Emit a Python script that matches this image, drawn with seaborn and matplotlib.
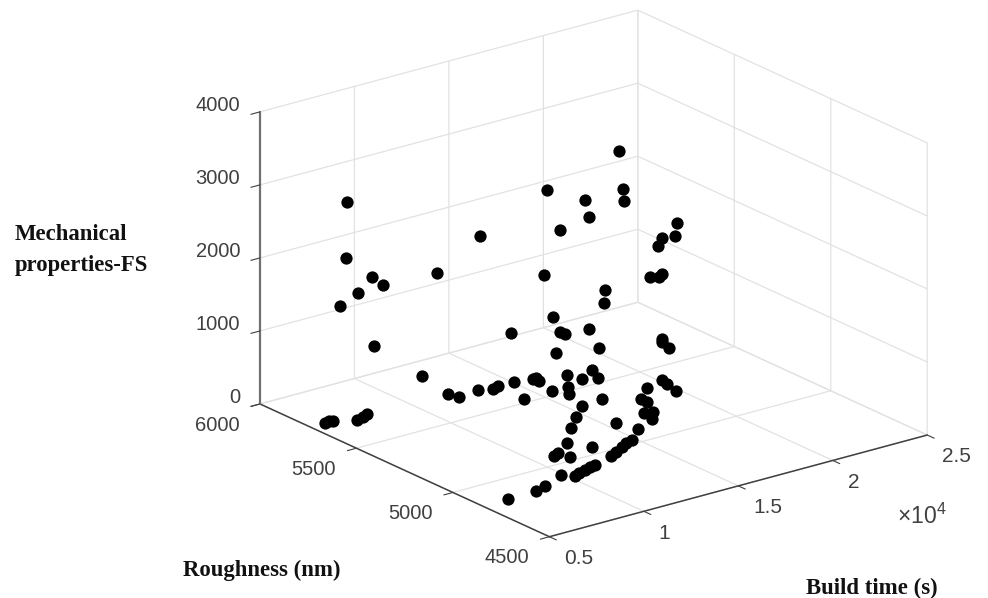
import numpy as np
import pandas as pd
import matplotlib
matplotlib.use("Agg")
import matplotlib.pyplot as plt
import seaborn as sns
from mpl_toolkits.mplot3d import proj3d

# =========================================
# Data
# =========================================
build_time = [7310, 7280, 7970, 8250, 7600, 7120, 8010, 9670, 10830, 12030, 11560, 11710, 12860, 13470, 13780, 5390,
              5650, 5780, 6640, 7030, 7410, 16330, 16540, 16590, 12580, 14560, 14740, 13240, 12510, 18380, 18340, 18000,
              17890, 18000, 17920, 17670, 15580, 15530, 12850, 11640, 19830, 19850, 20990, 19940, 22730, 22290, 22500, 18160,
              14620, 13720, 15510, 15650, 15570, 15250, 16910, 17120, 18110, 17720, 16060, 15620, 16350, 15180, 14190, 13190,
              18660, 19680, 19600, 19360, 17660, 17620, 16700, 17090, 16550, 15100, 15370, 12000, 12520, 10980, 10580, 11090,
              14350, 13920, 13490, 12940, 12490, 11320, 10980, 10620, 10230, 9860, 9440, 8130, 7480, 5960]
roughness = [5774, 5777, 5709, 5681, 5745, 5792, 5705, 5542, 5429, 5850, 5670, 5627, 5640, 5620, 5627, 5700,
             5704, 5697, 5659, 5667, 5683, 5250, 5250, 5250, 5257, 5250, 5250, 5250, 5264, 5151, 5154, 5188,
             5198, 5188, 5196, 5221, 5250, 5250, 5250, 5349, 5895, 5872, 5860, 5706, 5650, 5571, 5629, 5754,
             5626, 5486, 5616, 5612, 5590, 5492, 5574, 5520, 5562, 5494, 5487, 5437, 5338, 5330, 5262, 5189,
             5333, 5356, 5321, 5250, 5266, 5231, 5157, 5145, 5097, 5142, 5058, 5094, 5016, 5040, 5022, 4988,
             4989, 4977, 4957, 4932, 4916, 4881, 4875, 4865, 4857, 4844, 4873, 4831, 4812, 4808]
flexural = [2880, 2115, 1885, 1795, 1645, 1450, 935, 2030, 2590, 80, 80, 80, 80, 80, 80, 80,
            80, 80, 80, 80, 80, 3590, 3050, 2885, 3300, 3035, 2790, 2715, 2130, 2570, 2395, 2345,
            2235, 1865, 1820, 1805, 1735, 1565, 1560, 1295, 80, 80, 80, 80, 80, 80, 80, 80,
            80, 80, 80, 80, 80, 80, 80, 80, 80, 80, 80, 80, 80, 80, 80, 80,
            80, 80, 80, 80, 80, 80, 80, 80, 80, 80, 80, 80, 80, 80, 80, 80,
            80, 80, 80, 80, 80, 80, 80, 80, 80, 80, 80, 80, 80, 80]

x_ticks = [5000, 10000, 15000, 20000, 25000]
x_labels = ["0.5", "1", "1.5", "2", "2.5"]
y_ticks = [4500, 5000, 5500, 6000]
z_ticks = [0, 1000, 2000, 3000, 4000]

df = pd.DataFrame({"build_time": build_time, "roughness": roughness, "fs": flexural})

# =========================================
# Style
# =========================================
sns.set_theme(style="white")
plt.rcParams["font.family"] = ["Liberation Sans", "DejaVu Sans"]
plt.rcParams["mathtext.default"] = "regular"

W, H = 988, 598
GRID = "#e2e2e2"
AXIS = "#404040"
TEXT = "#404040"

fig = plt.figure(figsize=(W / 100, H / 100), dpi=100)
ax = fig.add_axes([0, (1 - W / H) / 2, 1, W / H], projection="3d", proj_type="ortho")
ax.view_init(elev=20.57, azim=-127.45)
ax.patch.set_alpha(0)

ax.scatter(df["build_time"], df["roughness"], df["fs"], s=78, color=sns.color_palette(["black"])[0],
           depthshade=False, linewidths=0, alpha=1)

ax.set_xlim(5000, 25000, view_margin=0)
ax.set_ylim(4500, 6000, view_margin=0)
ax.set_zlim(0, 4000, view_margin=0)

ax.set_xticks(x_ticks)
ax.set_xticklabels(x_labels, ha="left", va="center")
ax.set_yticks(y_ticks)
ax.set_yticklabels([str(v) for v in y_ticks], ha="right", va="center")
ax.set_zticks(z_ticks)
ax.set_zticklabels([str(v) for v in z_ticks], ha="right", va="baseline")
ax.zaxis.set_ticks_position("upper")

for axis in (ax.xaxis, ax.yaxis, ax.zaxis):
    axis.set_pane_color((1, 1, 1, 0))
    axis.pane.set_edgecolor(GRID)
    axis.line.set_color(AXIS)
    axis.line.set_linewidth(1.1)
    axis._axinfo["grid"].update(color=GRID, linewidth=0.9)
    axis._axinfo["tick"].update(inward_factor=0.3, outward_factor=0.0, linewidth={True: 0.8, False: 0.8})
ax.zaxis.line.set_color("#707070")
ax.zaxis.line.set_linewidth(1.6)
ax.tick_params(axis="x", labelsize=15, labelcolor=TEXT, color=AXIS, pad=11)
ax.tick_params(axis="y", labelsize=14.5, labelcolor=TEXT, color=AXIS, pad=12)
ax.tick_params(axis="z", labelsize=14.5, labelcolor=TEXT, color=AXIS, pad=3)

# line the box up with the picture
target = {"front": (549.3, 536.7), "right": (927.3, 435.0), "left": (260.0, 404.0)}
corners = {"front": (5000, 4500, 0), "right": (25000, 4500, 0), "left": (5000, 6000, 0)}


def corner_px():
    fig.canvas.draw()
    out = {}
    for k, (a, b, c) in corners.items():
        xp, yp, _ = proj3d.proj_transform(a, b, c, ax.get_proj())
        dx, dy = ax.transData.transform((xp, yp))
        out[k] = (dx, H - dy)
    return out


zoom = 1.0
for _ in range(3):
    ax.set_box_aspect((476, 476, 312), zoom=zoom)
    now = corner_px()
    span = np.hypot(now["right"][0] - now["left"][0], now["right"][1] - now["left"][1])
    want = np.hypot(target["right"][0] - target["left"][0], target["right"][1] - target["left"][1])
    zoom *= want / span
ax.set_box_aspect((476, 476, 312), zoom=zoom)
now = corner_px()
dx = np.mean([target[k][0] - now[k][0] for k in target])
dy = np.mean([target[k][1] - now[k][1] for k in target])
pos = ax.get_position(original=True)
ax.set_position([pos.x0 + dx / W, pos.y0 - dy / H, pos.width, pos.height])

# =========================================
# Labels
# =========================================
serif = dict(family="Liberation Serif", fontweight="bold", fontsize=16.4, color="#111111", va="center")
fig.text(15 / W, 1 - 234 / H, "Mechanical", **serif)
fig.text(15 / W, 1 - 266 / H, "properties-FS", **serif)
fig.text(183 / W, 1 - 570 / H, "Roughness (nm)", **serif)
fig.text(806 / W, 1 - 588 / H, "Build time (s)", **serif)
fig.text(897 / W, 1 - 516 / H, r"$\times10^{4}$", fontsize=16.5, color=TEXT, va="center")

fig.savefig("out.png", dpi=100)
